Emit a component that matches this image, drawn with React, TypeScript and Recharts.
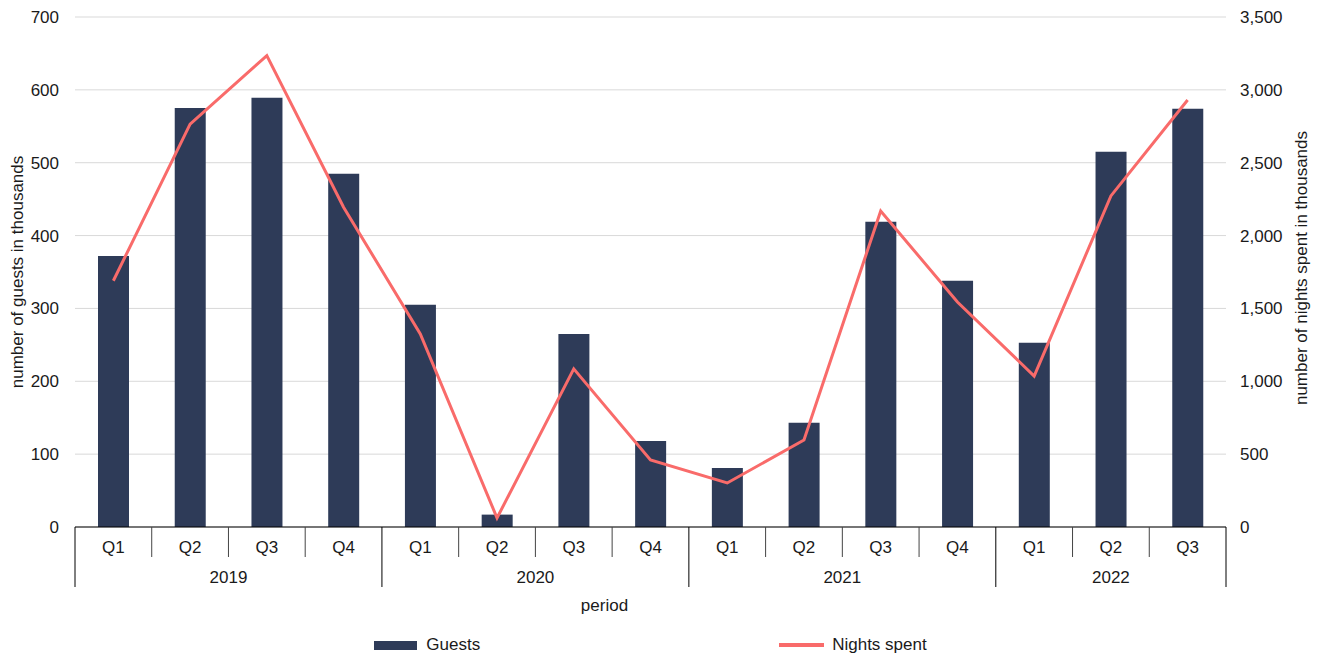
import React from 'react';
import {
  ComposedChart,
  Bar,
  Line,
  XAxis,
  YAxis,
  CartesianGrid,
  Legend,
  Label,
} from 'recharts';

// quarters and their year group
const quarters = ['Q1', 'Q2', 'Q3', 'Q4', 'Q1', 'Q2', 'Q3', 'Q4', 'Q1', 'Q2', 'Q3', 'Q4', 'Q1', 'Q2', 'Q3'];
const years = ['2019', '2019', '2019', '2019', '2020', '2020', '2020', '2020', '2021', '2021', '2021', '2021', '2022', '2022', '2022'];

// guests, thousands (left axis)
const guests = [372, 575, 589, 485, 305, 17, 265, 118, 81, 143, 419, 338, 253, 515, 574];
// nights spent, thousands (right axis)
const nights = [1690, 2765, 3235, 2195, 1325, 62, 1085, 460, 302, 597, 2169, 1544, 1036, 2272, 2930];

const leftTicks = [0, 100, 200, 300, 400, 500, 600, 700];
const rightTicks = [0, 500, 1000, 1500, 2000, 2500, 3000, 3500];

const data = quarters.map((q, i) => ({
  id: `${years[i]}-${q}`,
  guests: guests[i],
  nights: nights[i],
}));

const CHART_W = 1327;
const CHART_H = 663;
const LEFT_AXIS_W = 75;
const RIGHT_AXIS_W = 101;
const PLOT_W = CHART_W - LEFT_AXIS_W - RIGHT_AXIS_W;

const BAR_COLOR = '#2e3b58';
const LINE_COLOR = '#f96b6a';
const TEXT_COLOR = '#1a1a1a';
const FONT = '"Liberation Sans", Arial, sans-serif';

function PeriodTick(props: any) {
  const { x, y, index } = props;
  const n = quarters.length;
  const step = PLOT_W / n;
  const first = index === 0 || years[index] !== years[index - 1];
  const left = x - step / 2;

  let yearLabel = null;
  if (first) {
    let end = index;
    while (end + 1 < n && years[end + 1] === years[index]) end++;
    yearLabel = (
      <text x={x + ((end - index) / 2) * step} y={y + 56} textAnchor="middle" fill={TEXT_COLOR} fontSize={17}>
        {years[index]}
      </text>
    );
  }

  return (
    <g>
      <line x1={left} x2={left} y1={y} y2={y + (first ? 60 : 30)} stroke={first ? '#000' : '#444'} />
      {index === n - 1 && (
        <line x1={x + step / 2} x2={x + step / 2} y1={y} y2={y + 60} stroke="#000" />
      )}
      <text x={x} y={y + 26} textAnchor="middle" fill={TEXT_COLOR} fontSize={17}>
        {quarters[index]}
      </text>
      {yearLabel}
    </g>
  );
}

function AxisTitle({ viewBox, value, dx, dy }: any) {
  const cx = viewBox.x + dx;
  const cy = viewBox.y + viewBox.height / 2 + dy;
  return (
    <text
      x={cx}
      y={cy}
      transform={`rotate(-90 ${cx} ${cy})`}
      textAnchor="middle"
      dominantBaseline="central"
      fill={TEXT_COLOR}
      fontSize={17}
    >
      {value}
    </text>
  );
}

function LegendContent() {
  return (
    <div
      style={{
        display: 'flex',
        justifyContent: 'center',
        alignItems: 'center',
        gap: 299,
        height: 30,
        paddingTop: 6,
        boxSizing: 'border-box',
        fontSize: 17,
        color: TEXT_COLOR,
      }}
    >
      <div style={{ display: 'flex', alignItems: 'center' }}>
        <span style={{ display: 'inline-block', width: 43, height: 9, background: BAR_COLOR }} />
        <span style={{ marginLeft: 9 }}>Guests</span>
      </div>
      <div style={{ display: 'flex', alignItems: 'center' }}>
        <span style={{ display: 'inline-block', width: 45, height: 4, background: LINE_COLOR }} />
        <span style={{ marginLeft: 8 }}>Nights spent</span>
      </div>
    </div>
  );
}

export default function App() {
  return (
    <div style={{ position: 'absolute', left: 0, top: 0, fontFamily: FONT, background: '#fff' }}>
      <ComposedChart
        width={CHART_W}
        height={CHART_H}
        data={data}
        margin={{ top: 17, right: 0, left: 0, bottom: 6 }}
        barCategoryGap="30%"
      >
        <CartesianGrid yAxisId="left" vertical={false} stroke="#d9d9d9" />

        <XAxis
          dataKey="id"
          height={100}
          interval={0}
          tickSize={0}
          tickMargin={0}
          tickLine={false}
          axisLine={{ stroke: '#000' }}
          tick={<PeriodTick />}
        >
          <Label value="period" position="insideBottom" offset={16} dx={-46} fill={TEXT_COLOR} fontSize={17} />
        </XAxis>

        {/* left axis: guests */}
        <YAxis
          yAxisId="left"
          width={LEFT_AXIS_W}
          domain={[0, 700]}
          ticks={leftTicks}
          axisLine={false}
          tickLine={false}
          tickSize={0}
          tickMargin={16}
          tick={{ fill: TEXT_COLOR, fontSize: 17 }}
          label={<AxisTitle value="number of guests in thousands" dx={17} dy={0} />}
        />

        {/* right axis: nights spent */}
        <YAxis
          yAxisId="right"
          orientation="right"
          width={RIGHT_AXIS_W}
          domain={[0, 3500]}
          ticks={rightTicks}
          axisLine={false}
          tickLine={false}
          tickSize={0}
          tickMargin={14}
          tick={{ fill: TEXT_COLOR, fontSize: 17 }}
          tickFormatter={(v: number) => v.toLocaleString('en-US')}
          label={<AxisTitle value="number of nights spent in thousands" dx={75} dy={-4} />}
        />

        <Legend
          verticalAlign="bottom"
          height={30}
          content={<LegendContent />}
          wrapperStyle={{ left: LEFT_AXIS_W, width: PLOT_W }}
        />

        <Bar
          yAxisId="left"
          dataKey="guests"
          name="Guests"
          fill={BAR_COLOR}
          barSize={31}
          isAnimationActive={false}
        />
        <Line
          yAxisId="right"
          dataKey="nights"
          name="Nights spent"
          type="linear"
          stroke={LINE_COLOR}
          strokeWidth={3}
          dot={false}
          activeDot={false}
          isAnimationActive={false}
        />
      </ComposedChart>
    </div>
  );
}
